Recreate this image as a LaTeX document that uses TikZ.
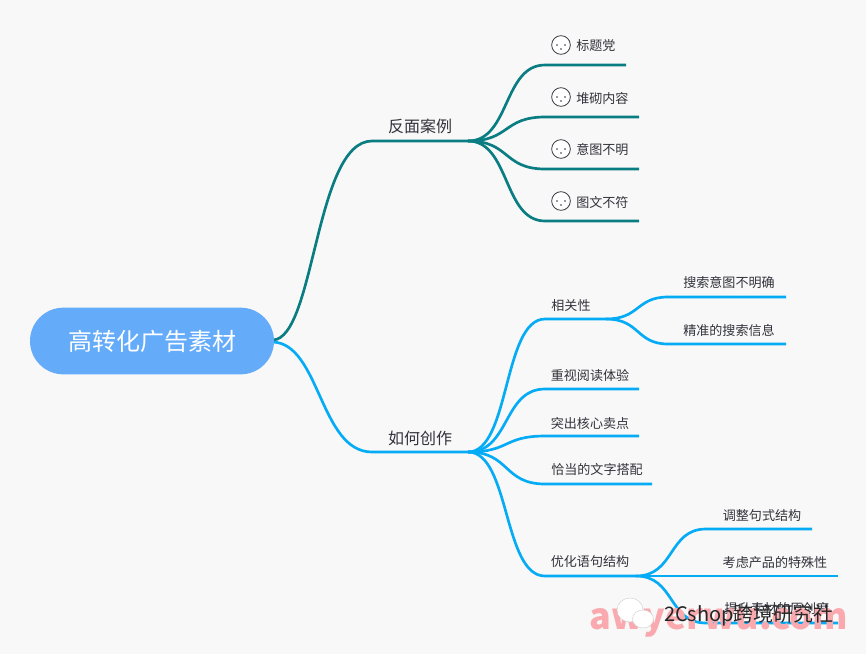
\documentclass[tikz,border=0pt]{standalone}
\usepackage{fontspec}
\setmainfont{Noto Sans CJK SC}
\usetikzlibrary{positioning}
\definecolor{PageGray}{RGB}{248, 248, 248}
\definecolor{RootBlue}{RGB}{100, 171, 250}
\definecolor{BranchTeal}{RGB}{10, 125, 130}
\definecolor{BranchSky}{RGB}{5, 172, 245}
\definecolor{LabelInk}{RGB}{50, 50, 60}
\definecolor{MarkPink}{RGB}{250, 170, 175}

\begin{document}
\begin{tikzpicture}[x=0.75pt, y=-0.75pt,
      root/.style={rectangle, rounded corners=25pt, fill=RootBlue, text=white, minimum width=183pt, minimum height=50pt, font=\fontsize{18}{20}\selectfont},
      topic/.style={text=LabelInk, inner sep=0pt, font=\fontsize{12}{14}\selectfont},
      leaf/.style={text=LabelInk, inner sep=0pt, font=\fontsize{9.8}{11}\selectfont},
      tealline/.style={draw=BranchTeal, line width=2pt},
      skyline/.style={draw=BranchSky, line width=2pt},
      face/.style={circle, draw=LabelInk, line width=0.6pt, fill=white, minimum size=14pt, inner sep=0pt}
    ]
      \fill[PageGray] (0,0) rectangle (866,654);
      \useasboundingbox (0,0) rectangle (866,654);

      \coordinate (rootteal) at (273,340);
      \coordinate (rootsky) at (273,342);
      % upper branch
      \coordinate (badL) at (372,141); \coordinate (badR) at (468,141);
      \node[topic] (bad) at (420,126) {反面案例};
      \coordinate (b1L) at (545,65);  \coordinate (b1R) at (626,65);
      \coordinate (b2L) at (545,117); \coordinate (b2R) at (639,117);
      \coordinate (b3L) at (545,169); \coordinate (b3R) at (639,169);
      \coordinate (b4L) at (545,221); \coordinate (b4R) at (639,221);
      \node[leaf, anchor=west] (b1) at (576,46) {标题党};
      \node[leaf, anchor=west] (b2) at (576,98) {堆砌内容};
      \node[leaf, anchor=west] (b3) at (576,150) {意图不明};
      \node[leaf, anchor=west] (b4) at (576,202) {图文不符};
      \foreach \y/\n in {45/f1, 97/f2, 149/f3, 201/f4} {
        \node[face] (\n) at (561,\y) {};
        \fill[LabelInk] (557,\y) circle (0.7pt) (565,\y) circle (0.7pt) (561,\y+4) circle (0.6pt);
      }

      % lower branch
      \coordinate (howL) at (372,452); \coordinate (howR) at (468,452);
      \node[topic] (how) at (420,438) {如何创作};
      \coordinate (h1L) at (545,319); \coordinate (h1R) at (606,319);
      \coordinate (h2L) at (545,389); \coordinate (h2R) at (639,389);
      \coordinate (h3L) at (545,436); \coordinate (h3R) at (639,436);
      \coordinate (h4L) at (545,484); \coordinate (h4R) at (652,484);
      \coordinate (h5L) at (545,576); \coordinate (h5R) at (636,576);
      \node[leaf] (h1) at (571,306) {相关性};
      \node[leaf] (h2) at (590,376) {重视阅读体验};
      \node[leaf] (h3) at (590,423) {突出核心卖点};
      \node[leaf] (h4) at (597,469) {恰当的文字搭配};
      \node[leaf] (h5) at (590,562) {优化语句结构};

      \coordinate (r1L) at (668,297); \coordinate (r1R) at (786,297);
      \coordinate (r2L) at (668,344); \coordinate (r2R) at (786,344);
      \node[leaf] (r1) at (729,283) {搜索意图不明确};
      \node[leaf] (r2) at (729,330) {精准的搜索信息};

      \coordinate (s1L) at (706,529); \coordinate (s1R) at (812,529);
      \coordinate (s2L) at (706,576); \coordinate (s2R) at (838,576);
      \coordinate (s3L) at (706,623); \coordinate (s3R) at (838,623);
      \node[leaf] (s1) at (762,516) {调整句式结构};
      \node[leaf] (s2) at (775,563) {考虑产品的特殊性};
      \node[leaf] (s3) at (777,608) {提升素材的原创度};

      \draw[tealline] (rootteal) .. controls +(42,-2) and +(-57,0) .. (badL) -- (badR);
      \foreach \n in {b1, b2, b3, b4}
        \draw[tealline] (badR) .. controls +(42,0) and +(-42,0) .. (\n L) -- (\n R);
      \draw[skyline] (rootsky) .. controls +(47,2) and +(-52,0) .. (howL) -- (howR);
      \foreach \n in {h1, h2, h3, h4, h5}
        \draw[skyline] (howR) .. controls +(42,0) and +(-42,0) .. (\n L) -- (\n R);
      \foreach \n in {r1, r2}
        \draw[skyline] (h1R) .. controls +(34,0) and +(-32,0) .. (\n L) -- (\n R);
      \foreach \n in {s1, s2, s3}
        \draw[skyline] (h5R) .. controls +(39,0) and +(-38,0) .. (\n L) -- (\n R);

      \node[root] (topnode) at (152,341) {高转化广告素材};

      % watermark
      \node[text=MarkPink, inner sep=0pt, font=\fontsize{27}{29}\selectfont\bfseries] (mark) at (719,623) {awyerwu.com};
      \fill[white, draw=gray!40, line width=0.3pt] (630,610) ellipse (13 and 12);
      \fill[white, draw=gray!40, line width=0.3pt] (643,619) ellipse (10.5 and 9);
      \node[text=black!85, inner sep=0pt, font=\fontsize{15}{17}\selectfont] (shop) at (749,615) {2Cshop跨境研究社};
    \end{tikzpicture}
\end{document}
